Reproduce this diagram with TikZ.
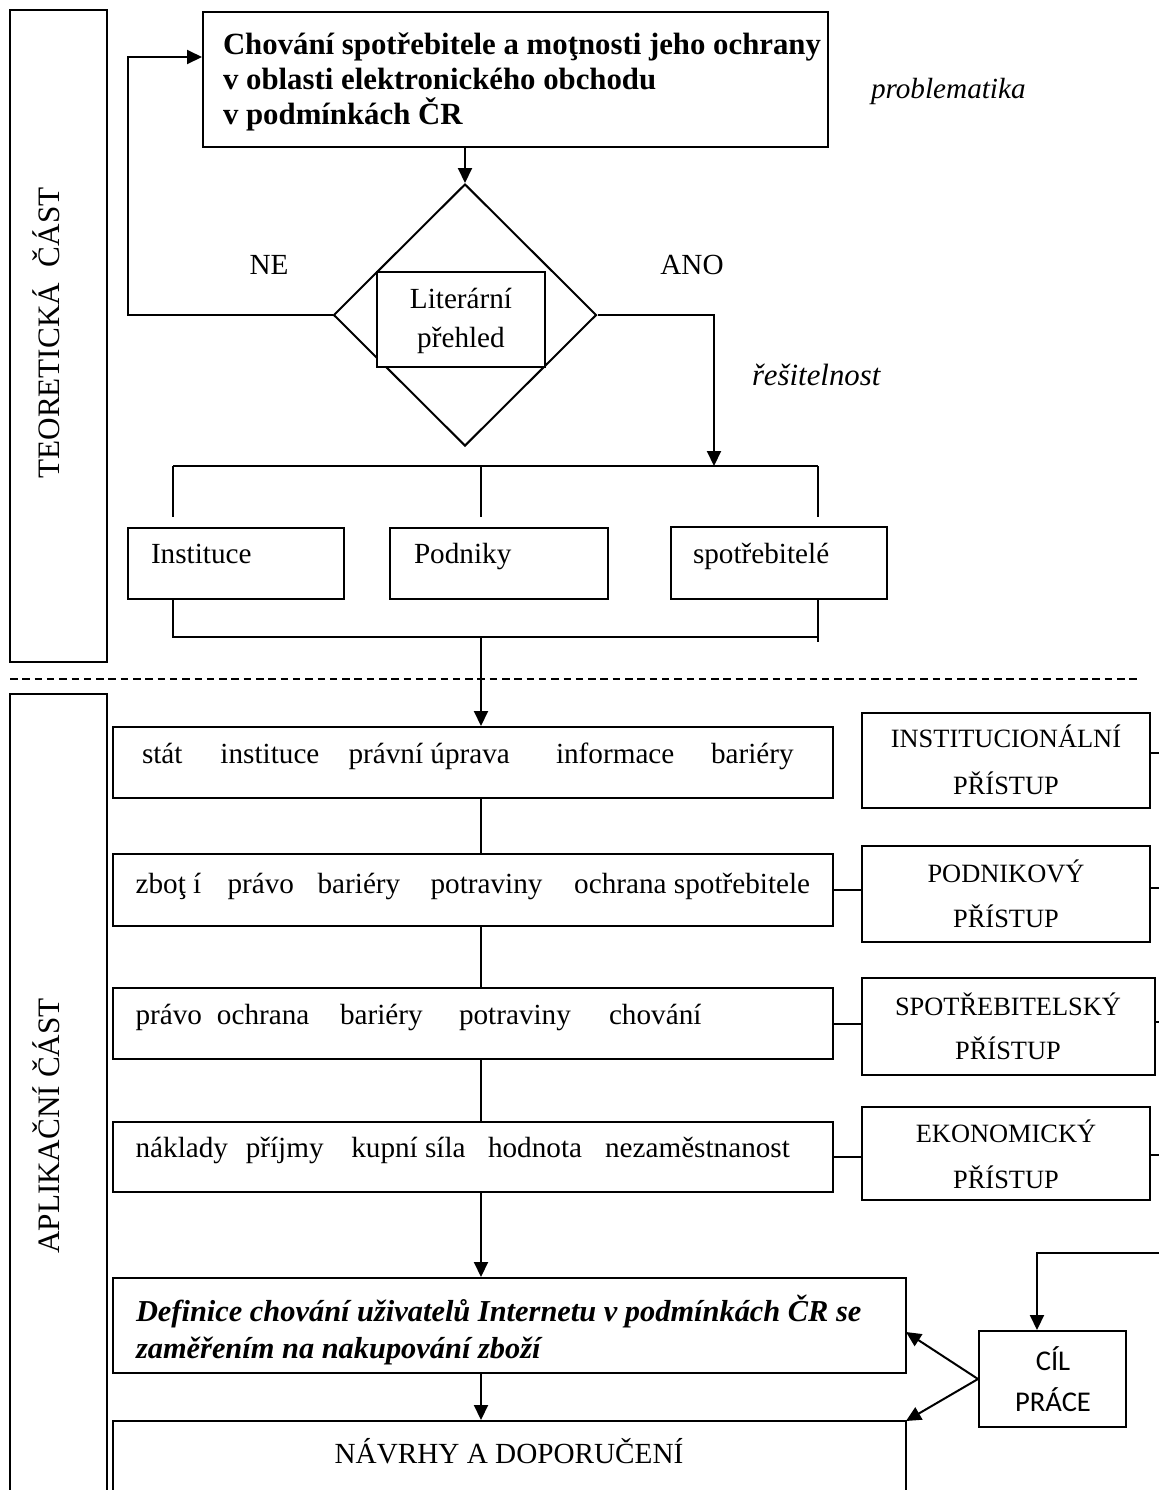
\documentclass[tikz,border=0pt]{standalone}
\usepackage{fontspec}
\setmainfont{Liberation Serif}
\newfontfamily\calfont{Carlito}
\usetikzlibrary{arrows.meta,shapes.geometric,fit}
% one drawing unit = 0.5pt
\newlength\pxu
\setlength\pxu{0.5pt}
% place a word at a horizontal offset inside a zero-width line
\newcommand\wat[2]{\makebox[0pt][l]{\hspace*{#1\pxu}#2}}

\begin{document}
\begin{tikzpicture}[x=0.5pt,y=-0.5pt,
  line width=1pt,
  box/.style={draw, line width=1pt, inner sep=0pt},
  txt/.style={inner sep=0pt, font=\fontsize{14.6}{17}\selectfont},
  sidetxt/.style={inner sep=0pt, font=\fontsize{15.6}{18}\selectfont, rotate=90, anchor=base},
  btxt/.style={inner sep=0pt, font=\fontsize{15.4}{18}\selectfont\bfseries},
  bitxt/.style={inner sep=0pt, font=\fontsize{15.2}{18}\selectfont\bfseries\itshape},
  itxt/.style={inner sep=0pt, font=\fontsize{14.6}{17}\selectfont\itshape},
  captxt/.style={inner sep=0pt, font=\fontsize{13.2}{16}\selectfont, anchor=base},
  goaltxt/.style={inner sep=0pt, font=\fontsize{14.3}{17}\calfont, anchor=base},
  arr/.style={-{Triangle[length=7.5pt,width=7pt]}},
  sepline/.style={line width=1pt, dash pattern=on 3.75pt off 2.4pt}]

\useasboundingbox (0,0) rectangle (1159,1490);
\clip (0,0) rectangle (1159,1490);

% ---- section frames
\node[box, fit={(10,10)(107,662)}] (teo) {};
\node[sidetxt] (teol) at (60,333) {TEORETICKÁ\ \ ČÁST};
\node[box, fit={(10,694)(107,1530)}] (apl) {};
\node[sidetxt] (apll) at (60,1126) {APLIKAČNÍ ČÁST};
\coordinate (dl) at (10,679);
\coordinate (dr) at (1140,679);
\draw[sepline] (dl) -- (dr);

% ---- problem statement
\node[box, fit={(203,12)(828,147)}] (prob) {};
\node[btxt, anchor=base west] (prob1) at (222,54) {Chování spotřebitele a moţnosti jeho ochrany};
\node[btxt, anchor=base west] (prob2) at (222,89) {v oblasti elektronického obchodu};
\node[btxt, anchor=base west] (prob3) at (222,124) {v podmínkách ČR};
\node[itxt, anchor=base west] (probl) at (870,98) {problematika};

% ---- decision
\node[draw, diamond, minimum width=131.5pt, minimum height=131pt, inner sep=0pt] (dia) at (465,315) {};
\node[box, fill=white, fit={(377,272)(545,367)}] (lit) {};
\node[txt, anchor=base] (lit1) at (461,308) {Literární};
\node[txt, anchor=base] (lit2) at (461,347) {přehled};
\node[txt, anchor=base] (ne) at (269,274) {NE};
\node[txt, anchor=base] (ano) at (692,274) {ANO};
\node[itxt, font=\fontsize{15.4}{18}\selectfont\itshape, anchor=base west] (res) at (751,385) {řešitelnost};

\coordinate (ax) at (465,0);
\draw[arr] (prob.south -| ax) -- (dia.north);
\coordinate (ret) at (128,57);
\draw[arr] (dia.west) -| (ret) -- (ret -| prob.west);
\coordinate (yes) at (714,466);
\draw[arr] (dia.east) -| (yes);

% ---- three subjects
\coordinate (fl) at (173,466);
\coordinate (fm) at (481,466);
\coordinate (fr) at (818,466);
\coordinate (fl2) at (173,517);
\coordinate (fm2) at (481,517);
\coordinate (fr2) at (818,517);
\draw (fl) -- (fr);
\draw (fl) -- (fl2);
\draw (fm) -- (fm2);
\draw (fr) -- (fr2);

\node[box, fit={(128,528)(344,599)}] (inst) {};
\node[box, fit={(390,528)(608,599)}] (podn) {};
\node[box, fit={(671,527)(887,599)}] (spot) {};
\node[txt, anchor=base west] (instl) at (150,563) {Instituce};
\node[txt, anchor=base west] (podnl) at (413,563) {Podniky};
\node[txt, anchor=base west] (spotl) at (692,563) {spotřebitelé};

\coordinate (bl) at (173,637);
\coordinate (br) at (818,637);
\coordinate (br2) at (818,642);
\coordinate (sp) at (481,637);
\draw (inst.south -| bl) -- (bl) -- (br);
\draw (spot.south -| br) -- (br2);

% ---- application rows
\node[box, fit={(113,727)(833,798)}] (r1) {};
\node[box, fit={(113,854)(833,926)}] (r2) {};
\node[box, fit={(113,988)(833,1059)}] (r3) {};
\node[box, fit={(113,1122)(833,1192)}] (r4) {};
\node[txt, anchor=base west] (r1t) at (140,763)
  {\wat{0}{stát}\wat{78.5}{instituce}\wat{206.5}{právní úprava}\wat{414}{informace}\wat{569}{bariéry}};
\node[txt, anchor=base west] (r2t) at (133.6,893)
  {\wat{0}{zboţ í}\wat{92}{právo}\wat{182}{bariéry}\wat{295}{potraviny}\wat{438.6}{ochrana spotřebitele}};
\node[txt, anchor=base west] (r3t) at (133.6,1024)
  {\wat{0}{právo}\wat{81.4}{ochrana}\wat{204.4}{bariéry}\wat{323.4}{potraviny}\wat{473.4}{chování}};
\node[txt, anchor=base west] (r4t) at (133.6,1157)
  {\wat{0}{náklady}\wat{110.2}{příjmy}\wat{215.7}{kupní síla}\wat{352.4}{hodnota}\wat{469.4}{nezaměstnanost}};

\node[box, fit={(862,713)(1150,808)}] (ib) {};
\node[box, fit={(862,846)(1150,942)}] (pb) {};
\node[box, fit={(862,978)(1155,1075)}] (sb) {};
\node[box, fit={(862,1107)(1150,1200)}] (eb) {};
\node[captxt] (ib1) at (1006,747) {INSTITUCIONÁLNÍ};
\node[captxt] (ib2) at (1006,794) {PŘÍSTUP};
\node[captxt] (pb1) at (1006,882) {PODNIKOVÝ};
\node[captxt] (pb2) at (1006,927) {PŘÍSTUP};
\node[captxt] (sb1) at (1008,1015) {SPOTŘEBITELSKÝ};
\node[captxt] (sb2) at (1008,1059) {PŘÍSTUP};
\node[captxt] (eb1) at (1006,1142) {EKONOMICKÝ};
\node[captxt] (eb2) at (1006,1188) {PŘÍSTUP};

\draw[arr] (sp) -- (r1.north -| sp);
\draw (r1.south -| sp) -- (r2.north -| sp);
\draw (r2.south -| sp) -- (r3.north -| sp);
\draw (r3.south -| sp) -- (r4.north -| sp);
\draw (r2.east) -- (r2.east -| pb.west);
\draw (r3.east) -- (r3.east -| sb.west);
\draw (r4.east) -- (r4.east -| eb.west);

\coordinate (e1) at (1159,753);
\coordinate (e2) at (1159,888);
\coordinate (e3) at (1159,1022);
\coordinate (e4) at (1159,1155);
\draw (ib.east |- e1) -- (e1);
\draw (pb.east |- e2) -- (e2);
\draw (sb.east |- e3) -- (e3);
\draw (eb.east |- e4) -- (e4);

% ---- goal and outputs
\node[box, fit={(113,1278)(906,1373)}] (def) {};
\node[bitxt, anchor=base west] (def1) at (135,1321) {Definice chování uživatelů Internetu v podmínkách ČR se};
\node[bitxt, anchor=base west] (def2) at (135,1358) {zaměřením na nakupování zboží};
\node[box, fit={(113,1421)(906,1540)}] (nav) {};
\node[txt, anchor=base] (navl) at (509,1463) {NÁVRHY A DOPORUČENÍ};

\node[box, fit={(979,1331)(1126,1427)}] (cil) {};
\node[goaltxt] (cil1) at (1053,1370) {CÍL};
\node[goaltxt] (cil2) at (1053,1411) {PRÁCE};

\draw[arr] (r4.south -| sp) -- (def.north -| sp);
\draw[arr] (def.south -| sp) -- (nav.north -| sp);
\coordinate (ta) at (906,1332);
\coordinate (tb) at (906,1421);
\draw[arr] (cil.west) -- (ta);
\draw[arr] (cil.west) -- (tb);
\coordinate (cin) at (1159,1253);
\coordinate (cx) at (1037,1253);
\draw[arr] (cin) -- (cx) -- (cx |- cil.north);
\end{tikzpicture}
\end{document}
